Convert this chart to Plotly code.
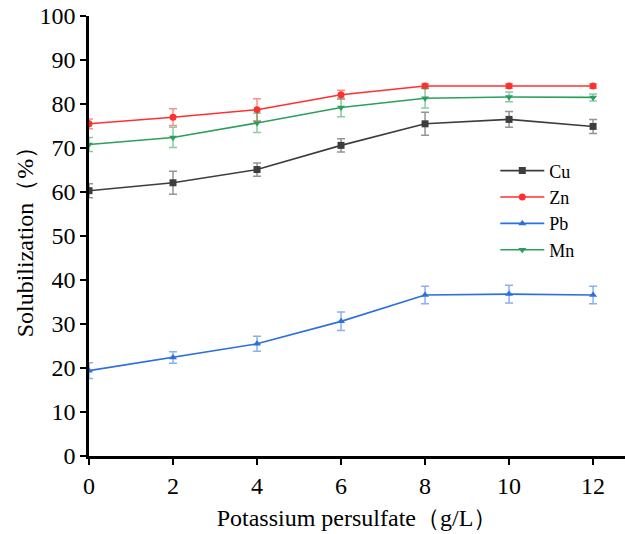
import plotly.graph_objects as go

# Potassium persulfate dose (g/L)
dose = [0, 2, 4, 6, 8, 10, 12]

# Mean solubilization (%) and standard deviation for each metal
cu = [60.3, 62.1, 65.1, 70.6, 75.5, 76.5, 74.9]
cu_err = [1.6, 2.6, 1.5, 1.5, 2.6, 1.8, 1.6]

zn = [75.5, 77.0, 78.7, 82.1, 84.1, 84.1, 84.1]
zn_err = [1.1, 1.9, 2.5, 1.0, 0.5, 0.5, 0.5]

pb = [19.4, 22.4, 25.5, 30.6, 36.6, 36.8, 36.6]
pb_err = [1.8, 1.3, 1.7, 2.1, 2.0, 2.0, 2.0]

mn = [70.8, 72.4, 75.7, 79.2, 81.3, 81.6, 81.5]
mn_err = [1.6, 2.3, 2.2, 2.1, 2.2, 1.1, 0.8]

series = [
    ("Cu", cu, cu_err, "#3d3d3d", "rgba(61,61,61,0.55)", "square"),
    ("Zn", zn, zn_err, "#ff3030", "rgba(255,48,48,0.55)", "circle"),
    ("Pb", pb, pb_err, "#2b6fe0", "rgba(43,111,224,0.55)", "triangle-up"),
    ("Mn", mn, mn_err, "#2ba05a", "rgba(43,160,90,0.55)", "triangle-down"),
]

fig = go.Figure()
for name, vals, errs, color, ecolor, symbol in series:
    fig.add_trace(go.Scatter(
        x=dose, y=vals, name=name, mode="lines+markers",
        line=dict(color=color, width=1.6),
        marker=dict(symbol=symbol, size=7, color=color),
        error_y=dict(type="data", array=errs, visible=True,
                     color=ecolor, thickness=1.5, width=4),
    ))

serif = "Times New Roman, Liberation Serif, serif"

fig.update_layout(
    width=625, height=534,
    margin=dict(l=89, r=0, t=16, b=78),
    paper_bgcolor="white", plot_bgcolor="white",
    font=dict(family=serif, size=24, color="black"),
    showlegend=True,
    legend=dict(
        x=0.758, y=0.69, xanchor="left", yanchor="top",
        bgcolor="rgba(0,0,0,0)", borderwidth=0,
        font=dict(family=serif, size=18, color="black"),
        tracegroupgap=0, itemwidth=44,
    ),
)

fig.update_xaxes(
    range=[0, 12.76], tickvals=dose, ticktext=[str(d) for d in dose],
    showgrid=False, zeroline=False,
    showline=True, linecolor="black", linewidth=2.5,
    ticks="outside", ticklen=6, tickwidth=2, tickcolor="black",
    tickfont=dict(family=serif, size=24),
    title=dict(text="Potassium persulfate（g/L）", standoff=12,
               font=dict(family=serif, size=24)),
)

fig.update_yaxes(
    range=[0, 100], dtick=10,
    showgrid=False, zeroline=False,
    showline=True, linecolor="black", linewidth=2.5,
    ticks="outside", ticklen=6, tickwidth=2, tickcolor="black",
    tickfont=dict(family=serif, size=24),
    title=dict(text="Solubilization（%）", standoff=0,
               font=dict(family=serif, size=24)),
)

fig.write_html("out.html")
